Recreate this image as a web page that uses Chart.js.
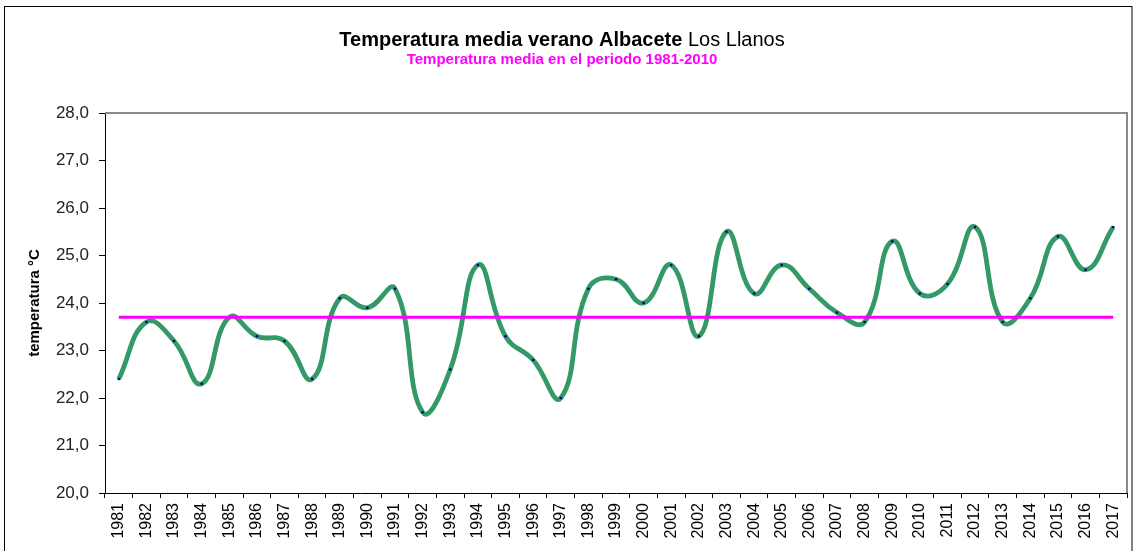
<!DOCTYPE html>
<html>
<head>
<meta charset="utf-8">
<script src="https://cdn.jsdelivr.net/npm/chart.js@4"></script>
<style>
  html, body { margin: 0; padding: 0; background: #fff; }
  #wrap { width: 1140px; height: 551px; }
</style>
</head>
<body>
<div id="wrap"><canvas id="chart" width="1140" height="551"></canvas></div>
<script>
// ========================
// DATA
// ========================
const YEARS = [
  "1981", "1982", "1983", "1984", "1985", "1986", "1987", "1988", "1989", "1990",
  "1991", "1992", "1993", "1994", "1995", "1996", "1997", "1998", "1999", "2000",
  "2001", "2002", "2003", "2004", "2005", "2006", "2007", "2008", "2009", "2010",
  "2011", "2012", "2013", "2014", "2015", "2016", "2017"
];

// temperatura media de verano (ºC)
const TEMP_VERANO = [
  22.4, 23.6, 23.2, 22.3, 23.7, 23.3, 23.2, 22.4, 24.1, 23.9,
  24.3, 21.7, 22.6, 24.8, 23.3, 22.8, 22.0, 24.3, 24.5, 24.0,
  24.8, 23.3, 25.5, 24.2, 24.8, 24.3, 23.8, 23.6, 25.3, 24.2,
  24.4, 25.6, 23.6, 24.1, 25.4, 24.7, 25.6
];

// media del periodo 1981-2010, drawn from first to last year
const MEDIA_1981_2010 = 23.7;

const Y_MIN = 20;
const Y_MAX = 28;
const Y_STEP = 1;

const TITLE_BOLD = "Temperatura media verano Albacete ";
const TITLE_NORMAL = "Los Llanos";
const SUBTITLE = "Temperatura media en el periodo 1981-2010";
const Y_TITLE = "temperatura °C";

const FONT = "'Liberation Sans', Arial, sans-serif";

// ========================
// Plugin: frame + title
// ========================
const decor = {
  id: "decor",
  beforeDraw(chart) {
    const ctx = chart.ctx;
    ctx.save();
    ctx.fillStyle = "#fff";
    ctx.fillRect(0, 0, chart.width, chart.height);
    ctx.restore();
  },
  afterDraw(chart) {
    const { ctx, chartArea: a } = chart;
    ctx.save();

    // outer chart frame
    ctx.strokeStyle = "#000";
    ctx.lineWidth = 1;
    ctx.strokeRect(4.5, 6.5, 1127.5, 600);

    // plot area top / right edge (grey)
    ctx.strokeStyle = "#8a8a8a";
    ctx.lineWidth = 2;
    ctx.beginPath();
    ctx.moveTo(a.left, a.top);
    ctx.lineTo(a.right, a.top);
    ctx.lineTo(a.right, a.bottom);
    ctx.stroke();

    // title, bold + regular
    const cx = 562;
    ctx.fillStyle = "#000";
    ctx.textBaseline = "alphabetic";
    ctx.textAlign = "left";
    ctx.font = "bold 20px " + FONT;
    const w1 = ctx.measureText(TITLE_BOLD).width;
    ctx.font = "20px " + FONT;
    const w2 = ctx.measureText(TITLE_NORMAL).width;
    const x0 = cx - (w1 + w2) / 2;
    ctx.font = "bold 20px " + FONT;
    ctx.fillText(TITLE_BOLD, x0, 46);
    ctx.font = "20px " + FONT;
    ctx.fillText(TITLE_NORMAL, x0 + w1, 46);

    // subtitle
    ctx.fillStyle = "#ff00ff";
    ctx.textAlign = "center";
    ctx.font = "bold 15px " + FONT;
    ctx.fillText(SUBTITLE, cx, 64);

    ctx.restore();
  }
};

// ========================
// Chart.js
// ========================
const ctx = document.getElementById("chart").getContext("2d");

new Chart(ctx, {
  type: "line",
  data: {
    labels: YEARS,
    datasets: [
      {
        label: "Temperatura media verano",
        data: TEMP_VERANO,
        borderColor: "#339966",
        borderWidth: 4.8,
        tension: 0.45,
        fill: false,
        pointRadius: 1.3,
        pointBackgroundColor: "#000080",
        pointBorderWidth: 0,
        order: 1
      },
      {
        label: "Temperatura media en el periodo 1981-2010",
        data: [
          { x: YEARS[0], y: MEDIA_1981_2010 },
          { x: YEARS[YEARS.length - 1], y: MEDIA_1981_2010 }
        ],
        borderColor: "#ff00ff",
        borderWidth: 3,
        pointRadius: 0,
        fill: false,
        order: 0
      }
    ]
  },
  options: {
    responsive: false,
    animation: false,
    layout: { padding: { top: 113, right: 13, left: 0, bottom: 0 } },
    plugins: {
      legend: { display: false },
      title: { display: false },
      tooltip: { enabled: false }
    },
    scales: {
      x: {
        type: "category",
        offset: true,
        grid: {
          offset: true,
          drawOnChartArea: false,
          drawTicks: true,
          tickLength: 5,
          color: "#000"
        },
        border: { color: "#000", width: 1 },
        ticks: {
          autoSkip: false,
          minRotation: 90,
          maxRotation: 90,
          color: "#000",
          padding: 5,
          font: { family: FONT, size: 16 }
        },
        afterFit(scale) { scale.height = 58; }
      },
      y: {
        min: Y_MIN,
        max: Y_MAX,
        grid: {
          drawOnChartArea: false,
          drawTicks: true,
          tickLength: 6,
          color: "#000"
        },
        border: { color: "#000", width: 1 },
        ticks: {
          stepSize: Y_STEP,
          color: "#222",
          padding: 10,
          font: { family: FONT, size: 17 },
          callback: v => v.toFixed(1).replace(".", ",")
        },
        title: {
          display: true,
          text: Y_TITLE,
          color: "#000",
          font: { family: FONT, size: 15, weight: "bold" },
          padding: { top: 26, bottom: 0 }
        },
        afterFit(scale) { scale.width = 105; }
      }
    }
  },
  plugins: [decor]
});
</script>
</body>
</html>
